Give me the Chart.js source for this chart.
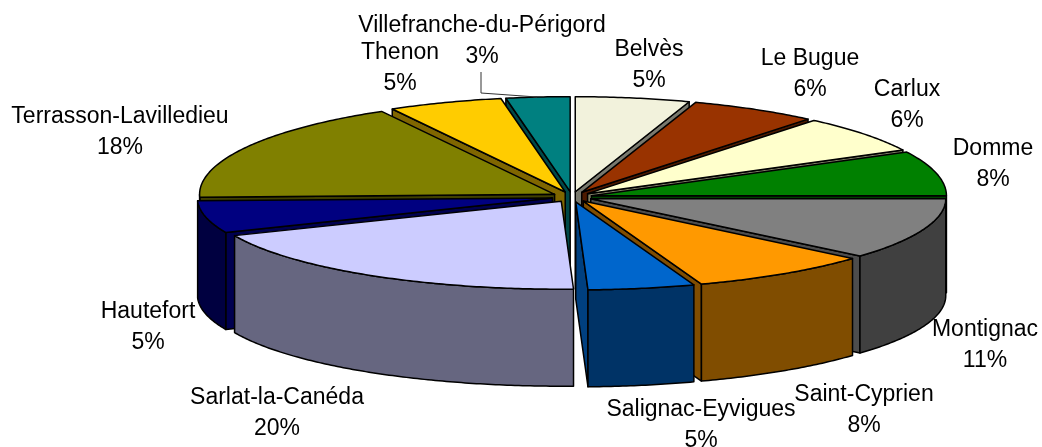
<!DOCTYPE html>
<html>
<head>
<meta charset="utf-8">
<script src="https://cdn.jsdelivr.net/npm/chart.js@4"></script>
<style>
  html, body { margin: 0; padding: 0; background: #fff; }
  canvas { display: block; }
</style>
</head>
<body>
<canvas id="chartPie" width="1042" height="447"></canvas>
<script>
// ─── Data ────────────────────────────────────────────────────────────────────
const cantons = ['Belvès', 'Le Bugue', 'Carlux', 'Domme', 'Montignac', 'Saint-Cyprien',
  'Salignac-Eyvigues', 'Sarlat-la-Canéda', 'Hautefort', 'Terrasson-Lavilledieu', 'Thenon', 'Villefranche-du-Périgord'];
const shares = [5.2, 5.8, 6.4, 7.6, 11.3, 8.3, 4.85, 19.15, 5.9, 17.4, 5.2, 2.9];
const shareLabels = ['5%', '6%', '6%', '8%', '11%', '8%', '5%', '20%', '5%', '18%', '5%', '3%'];

// ─── Styles ──────────────────────────────────────────────────────────────────
const topColors = ['#F2F2DC', '#993300', '#FFFFCC', '#008000', '#808080', '#FF9900',
  '#0066CC', '#CCCCFF', '#000080', '#808000', '#FFCC00', '#008080'];
const wallColors = ['#79796E', '#4D1A00', '#808066', '#004000', '#404040', '#804D00',
  '#003366', '#666680', '#000040', '#404000', '#806600', '#004040'];
const cutColors = ['#79796E', '#4D1A00', '#808066', '#004000', '#4D4D4D', '#804D00',
  '#004080', '#666680', '#000050', '#404000', '#806600', '#004848'];

// back of the ellipse is a little deeper than the front in the reference
const PIE = { cx: 572, cy: 197, rx: 355, ryBack: 95, ryFront: 88, depth: 97, explode: 20, line: 1.5 };
const LABEL_FONT = '23px "Liberation Sans", Arial, sans-serif';
const LABEL_LINE = 31;
// centre of the first text line of each label
const labelPos = [[649, 50], [810, 59], [907, 90], [993, 149], [985, 330], [864, 395],
  [701, 410], [277, 398], [148, 312], [120, 117], [400, 53], [482, 26]];
const leader = [[481, 72], [481, 93], [537, 97]];

// ─── 3D look: squashed top faces, extruded walls and cut faces ───────────────
const pie3d = {
  id: 'pie3d',
  beforeDatasetDraw(chart, args) {
    const ctx = chart.ctx;
    const arcs = args.meta.data;
    const R = arcs[0].outerRadius;
    const sx = PIE.rx / R;
    const boom = PIE.explode / sx;

    const order = arcs.map((a, i) => i)
      .sort((p, q) => midCos(arcs[q]) - midCos(arcs[p]));

    order.forEach(i => {
      const arc = arcs[i];
      const mid = (arc.startAngle + arc.endAngle) / 2;
      const ox = boom * Math.cos(mid), oy = boom * Math.sin(mid);
      const pt = (ang, r, dz) => {
        const ly = r * Math.sin(ang) + oy;
        return [
          PIE.cx + sx * (r * Math.cos(ang) + ox),
          PIE.cy + ly * (ly > 0 ? PIE.ryFront : PIE.ryBack) / R + dz,
        ];
      };
      const poly = (points, fill) => {
        ctx.beginPath();
        points.forEach((p, k) => k ? ctx.lineTo(p[0], p[1]) : ctx.moveTo(p[0], p[1]));
        ctx.closePath();
        ctx.fillStyle = fill;
        ctx.fill();
        ctx.stroke();
      };
      const rimPoints = (a0, a1, dz) => {
        const out = [];
        const n = Math.max(2, Math.ceil((a1 - a0) * 90));
        for (let k = 0; k <= n; k++) out.push(pt(a0 + (a1 - a0) * k / n, R, dz));
        return out;
      };

      ctx.save();
      ctx.strokeStyle = '#000';
      ctx.lineWidth = PIE.line;
      ctx.lineJoin = 'round';

      // cut faces: only the ones turned towards the viewer
      [[arc.startAngle, -1], [arc.endAngle, 1]].forEach(([ang, side]) => {
        if (side * Math.cos(ang) > 0) {
          poly([pt(0, 0, 0), pt(ang, R, 0), pt(ang, R, PIE.depth), pt(0, 0, PIE.depth)], cutColors[i]);
        }
      });

      // outer wall: front half of the rim (canvas angles 0..PI)
      for (const turn of [0, 2 * Math.PI]) {
        const a0 = Math.max(arc.startAngle, turn), a1 = Math.min(arc.endAngle, turn + Math.PI);
        if (a1 > a0) {
          poly([...rimPoints(a0, a1, 0), ...rimPoints(a0, a1, PIE.depth).reverse()], wallColors[i]);
        }
      }

      // top face, from the library's arc geometry and colour
      poly([pt(0, 0, 0), ...rimPoints(arc.startAngle, arc.endAngle, 0)], arc.options.backgroundColor);
      ctx.restore();
    });
    return false;
  },
  afterDraw(chart) {
    const ctx = chart.ctx;
    ctx.save();
    ctx.strokeStyle = '#333';
    ctx.lineWidth = 1;
    ctx.beginPath();
    leader.forEach((p, k) => k ? ctx.lineTo(p[0], p[1]) : ctx.moveTo(p[0], p[1]));
    ctx.stroke();

    ctx.fillStyle = '#000';
    ctx.font = LABEL_FONT;
    ctx.textAlign = 'center';
    ctx.textBaseline = 'middle';
    cantons.forEach((name, i) => {
      const [x, y] = labelPos[i];
      ctx.fillText(name, x, y);
      ctx.fillText(shareLabels[i], x, y + LABEL_LINE);
    });
    ctx.restore();
  },
};

function midCos(arc) {
  return -Math.sin((arc.startAngle + arc.endAngle) / 2);
}

new Chart(document.getElementById('chartPie'), {
  type: 'pie',
  data: {
    labels: cantons,
    datasets: [{ data: shares, backgroundColor: topColors, borderWidth: 0 }],
  },
  options: {
    responsive: false, animation: false,
    plugins: { legend: { display: false }, tooltip: { enabled: false } },
  },
  plugins: [pie3d],
});
</script>
</body>
</html>
